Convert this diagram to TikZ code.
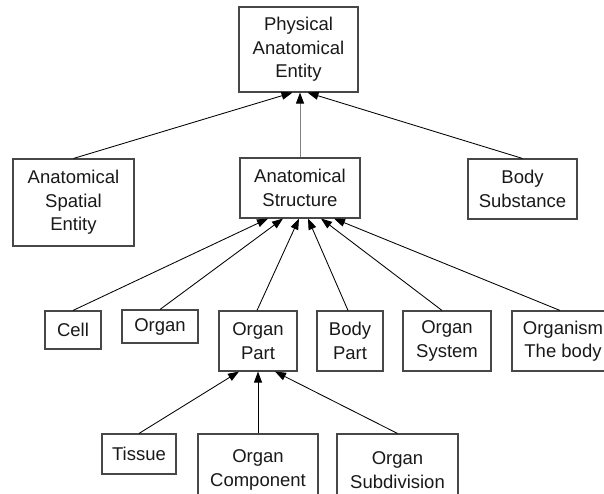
\documentclass[tikz,border=0pt]{standalone}
\usepackage{fontspec}
\setmainfont{Liberation Sans}
\usetikzlibrary{arrows.meta,calc}
\tikzset{
  box/.style={draw=black!72, line width=1.1pt, fill=white, inner sep=0pt, align=center,
    font=\fontsize{18.5}{23.5}\selectfont, text=black!90},
  link/.style={line width=0.85pt, draw=black, -{Triangle[length=11pt,width=8pt,color=black]}},
}
\begin{document}
\begin{tikzpicture}[x=1pt,y=-1pt]
\clip (0,0) rectangle (604,494);
\fill[white] (0,0) rectangle (604,494);
% level 0
\node[box, minimum width=119pt, minimum height=85pt] (phys) at (298.5,49.5) {Physical\\Anatomical\\Entity};
% level 1
\node[box, minimum width=121pt, minimum height=87pt] (ase) at (73.5,202.5) {Anatomical\\Spatial\\Entity};
\node[box, minimum width=120pt, minimum height=60pt] (as) at (300,188) {Anatomical\\Structure};
\node[box, minimum width=109pt, minimum height=60pt] (bs) at (522.5,189) {Body\\Substance};
% level 2
\node[box, minimum width=56pt, minimum height=38pt] (cell) at (73,330) {Cell};
\node[box, minimum width=76pt, minimum height=33pt] (organ) at (160,326.5) {Organ};
\node[box, minimum width=78pt, minimum height=60pt] (opart) at (258,341) {Organ\\Part};
\node[box, minimum width=66pt, minimum height=60pt] (bpart) at (350,341) {Body\\Part};
\node[box, minimum width=88pt, minimum height=60pt] (osys) at (447,341) {Organ\\System};
\node[box, minimum width=102pt, minimum height=60pt] (orgm) at (563,341) {Organism\\The body};
% level 3
\node[box, minimum width=74pt, minimum height=40pt] (tissue) at (139,454) {Tissue};
\node[box, minimum width=120pt, minimum height=72pt] (ocomp) at (258,470) {Organ\\Component};
\node[box, minimum width=121pt, minimum height=72pt] (osub) at (397.5,470) {Organ\\Subdivision};
% connectors
\draw[link] (ase.north) -- ($(phys.south)+(-6,0)$);
\draw[link, draw=black!50] (as.north) -- ($(phys.south)+(1.5,0)$);
\draw[link] (bs.north) -- ($(phys.south)+(9,0)$);
\draw[link] (cell.north) -- ($(as.south)+(-32,0)$);
\draw[link] (organ.north) -- ($(as.south)+(-17,0)$);
\draw[link] ($(opart.north)+(-1,0)$) -- ($(as.south)+(-1,0)$);
\draw[link] ($(bpart.north)+(-2,0)$) -- ($(as.south)+(8,0)$);
\draw[link] ($(osys.north)+(-5,0)$) -- ($(as.south)+(21,0)$);
\draw[link] ($(orgm.north)+(-3,0)$) -- ($(as.south)+(34,0)$);
\draw[link] (tissue.north) -- ($(opart.south)+(-19,0)$);
\draw[link] (ocomp.north) -- (opart.south);
\draw[link] (osub.north) -- ($(opart.south)+(17,0)$);
\end{tikzpicture}
\end{document}
